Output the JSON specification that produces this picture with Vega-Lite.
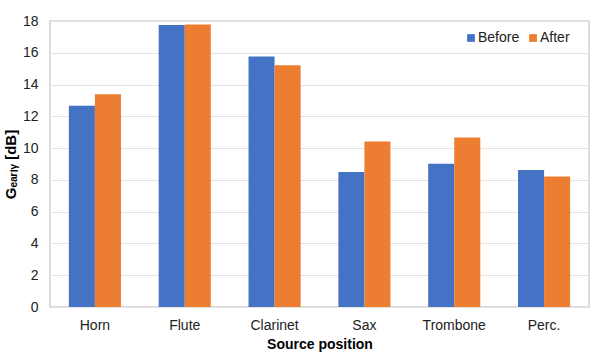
{
  "$schema": "https://vega.github.io/schema/vega-lite/v6.json",
  "width": 539,
  "height": 286,
  "autosize": {"type": "none"},
  "padding": {"left": 50, "top": 21, "right": 11, "bottom": 47},
  "background": "white",
  "config": {
    "font": "Liberation Sans",
    "view": {"stroke": "#d0d0d0", "strokeWidth": 1.5}
  },
  "data": {
    "values": [
      {"pos": "Horn", "series": "Before", "value": 12.67},
      {"pos": "Horn", "series": "After", "value": 13.39},
      {"pos": "Flute", "series": "Before", "value": 17.75},
      {"pos": "Flute", "series": "After", "value": 17.78},
      {"pos": "Clarinet", "series": "Before", "value": 15.76},
      {"pos": "Clarinet", "series": "After", "value": 15.21},
      {"pos": "Sax", "series": "Before", "value": 8.5},
      {"pos": "Sax", "series": "After", "value": 10.41},
      {"pos": "Trombone", "series": "Before", "value": 9.02},
      {"pos": "Trombone", "series": "After", "value": 10.66},
      {"pos": "Perc.", "series": "Before", "value": 8.63},
      {"pos": "Perc.", "series": "After", "value": 8.22}
    ]
  },
  "mark": {"type": "bar"},
  "encoding": {
    "x": {
      "field": "pos",
      "type": "nominal",
      "sort": ["Horn", "Flute", "Clarinet", "Sax", "Trombone", "Perc."],
      "scale": {"paddingInner": 0.42, "paddingOuter": 0.21},
      "axis": {
        "title": "Source position",
        "titleFont": "Liberation Sans",
        "titleFontSize": 14,
        "titleFontWeight": "bold",
        "titleColor": "#000",
        "titlePadding": 5,
        "labelAngle": 0,
        "labelFontSize": 14,
        "labelColor": "#222",
        "labelPadding": 11,
        "ticks": false,
        "domain": false
      }
    },
    "xOffset": {
      "field": "series",
      "type": "nominal",
      "sort": ["Before", "After"],
      "scale": {"paddingInner": 0, "paddingOuter": 0}
    },
    "y": {
      "field": "value",
      "type": "quantitative",
      "scale": {"domain": [0, 18], "nice": false},
      "axis": {
        "title": "Gₑₐᵣₗᵧ [dB]",
        "titleFont": "Liberation Sans",
        "titleFontSize": 15,
        "titleFontWeight": "bold",
        "titleColor": "#000",
        "titlePadding": 4,
        "values": [0, 2, 4, 6, 8, 10, 12, 14, 16, 18],
        "labelFontSize": 14,
        "labelColor": "#222",
        "labelPadding": 12,
        "ticks": false,
        "domain": false,
        "gridColor": "#e4e4e4",
        "gridWidth": 1.2
      }
    },
    "color": {
      "field": "series",
      "type": "nominal",
      "sort": ["Before", "After"],
      "scale": {"domain": ["Before", "After"], "range": ["#4472C4", "#ED7D31"]},
      "legend": {
        "title": null,
        "orient": "none",
        "legendX": 414,
        "legendY": 10,
        "direction": "horizontal",
        "symbolType": "square",
        "symbolSize": 60,
        "symbolOffset": 0,
        "labelOffset": 0,
        "labelFontSize": 14,
        "labelColor": "#222",
        "labelFont": "Liberation Sans",
        "columnPadding": 6,
        "padding": 0
      }
    }
  }
}
